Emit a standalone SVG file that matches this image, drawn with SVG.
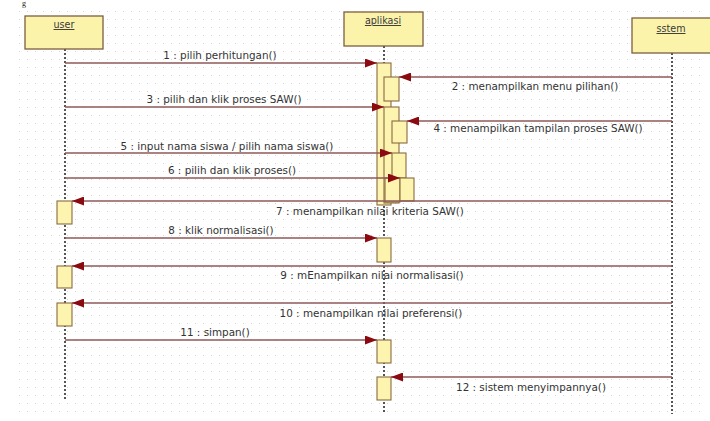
<svg xmlns="http://www.w3.org/2000/svg" width="710" height="421" viewBox="0 0 710 421">
<style>
.lbl{font-family:"DejaVu Sans",Verdana,sans-serif;font-size:10.4px;fill:#333;text-anchor:middle}
.hd{font-family:"DejaVu Sans",Verdana,sans-serif;font-size:9.6px;fill:#3a3a3a;text-anchor:middle;text-decoration:underline}
.box{fill:#fcf3ab;stroke:#7d5f3c;stroke-width:1.3}
.act{fill:#fdf4b0;stroke:#8a6a40;stroke-width:1.1}
.life{stroke:#555;stroke-width:2;stroke-dasharray:2 2;fill:none}
.msg{stroke:#8e5858;stroke-width:1.3;fill:none}
</style>
<defs>
<pattern id="grid" width="8" height="8" patternUnits="userSpaceOnUse">
<rect x="3" y="3" width="1" height="1" fill="#d4d4d4"/>
</pattern>
<marker id="ah" markerWidth="12" markerHeight="9" refX="12" refY="4.5" orient="auto" markerUnits="userSpaceOnUse">
<path d="M0,0 L12,4.5 L0,9 Z" fill="#8b0a10"/>
</marker>
</defs>
<rect width="710" height="421" fill="#fff"/>
<rect x="12" y="7" width="690" height="405" fill="url(#grid)"/>
<text x="22" y="6" font-family="Liberation Serif,serif" font-size="8" fill="#222">g</text>

<g id="user">
<line class="life" x1="65" y1="49" x2="65" y2="401"/>
<rect class="box" x="25" y="16" width="78" height="33"/>
<text class="hd" x="64" y="28">user</text>
<rect class="act" x="57" y="201" width="15" height="23"/>
<rect class="act" x="57" y="266" width="15" height="22"/>
<rect class="act" x="57" y="303" width="15" height="23"/>
</g>

<g id="aplikasi">
<line class="life" x1="384" y1="46" x2="384" y2="412"/>
<rect class="box" x="344" y="12" width="79" height="34"/>
<text class="hd" x="383" y="24">aplikasi</text>
<rect class="act" x="377" y="63" width="14" height="142"/>
<rect class="act" x="384" y="77" width="15" height="24"/>
<rect class="act" x="384" y="107" width="15" height="96"/>
<rect class="act" x="392" y="121" width="15" height="22"/>
<rect class="act" x="392" y="153" width="14" height="25"/>
<rect class="act" x="385" y="178" width="15" height="24"/>
<rect class="act" x="400" y="178" width="14" height="23"/>
<rect class="act" x="377" y="238" width="14" height="24"/>
<rect class="act" x="377" y="340" width="14" height="23"/>
<rect class="act" x="377" y="377" width="14" height="23"/>
</g>

<g id="sstem">
<line class="life" x1="672" y1="53" x2="672" y2="414"/>
<rect class="box" x="632" y="18" width="80" height="35"/>
<text class="hd" x="671" y="32">sstem</text>
</g>

<g id="connectors">
<line class="msg" x1="65" y1="63" x2="377" y2="63" marker-end="url(#ah)"/>
<text class="lbl" x="220" y="59">1 : pilih perhitungan()</text>
<line class="msg" x1="672" y1="77" x2="399" y2="77" marker-end="url(#ah)"/>
<text class="lbl" x="535" y="90">2 : menampilkan menu pilihan()</text>
<line class="msg" x1="65" y1="107" x2="384" y2="107" marker-end="url(#ah)"/>
<text class="lbl" x="224" y="103">3 : pilih dan klik proses SAW()</text>
<line class="msg" x1="672" y1="121" x2="407" y2="121" marker-end="url(#ah)"/>
<text class="lbl" x="538" y="132">4 : menampilkan tampilan proses SAW()</text>
<line class="msg" x1="65" y1="153" x2="392" y2="153" marker-end="url(#ah)"/>
<text class="lbl" x="227" y="150">5 : input nama siswa / pilih nama siswa()</text>
<line class="msg" x1="65" y1="178" x2="400" y2="178" marker-end="url(#ah)"/>
<text class="lbl" x="232" y="174">6 : pilih dan klik proses()</text>
<line class="msg" x1="672" y1="201" x2="72" y2="201" marker-end="url(#ah)"/>
<text class="lbl" x="370" y="215">7 : menampilkan nilai kriteria SAW()</text>
<line class="msg" x1="65" y1="238" x2="377" y2="238" marker-end="url(#ah)"/>
<text class="lbl" x="221" y="234">8 : klik normalisasi()</text>
<line class="msg" x1="672" y1="266" x2="72" y2="266" marker-end="url(#ah)"/>
<text class="lbl" x="372" y="279">9 : mEnampilkan nilai normalisasi()</text>
<line class="msg" x1="672" y1="303" x2="72" y2="303" marker-end="url(#ah)"/>
<text class="lbl" x="371" y="317">10 : menampilkan nilai preferensi()</text>
<line class="msg" x1="65" y1="340" x2="377" y2="340" marker-end="url(#ah)"/>
<text class="lbl" x="215" y="336">11 : simpan()</text>
<line class="msg" x1="672" y1="377" x2="391" y2="377" marker-end="url(#ah)"/>
<text class="lbl" x="531" y="391">12 : sistem menyimpannya()</text>
</g>
</svg>
